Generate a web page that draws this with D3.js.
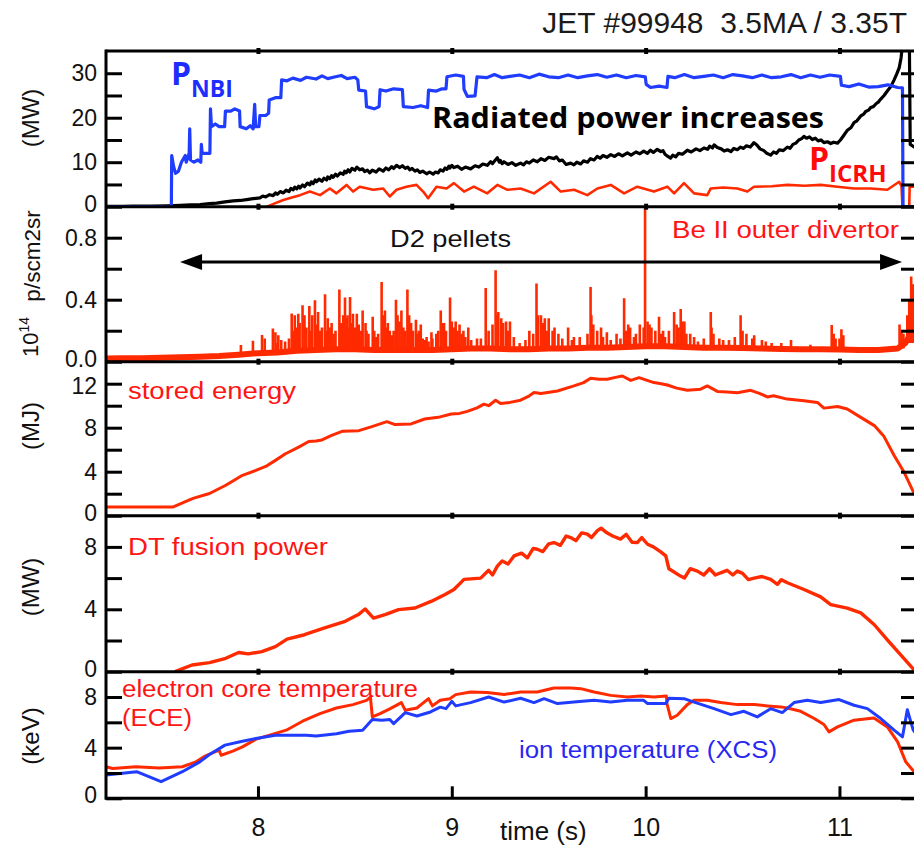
<!DOCTYPE html>
<html><head><meta charset="utf-8">
<script src="https://cdn.jsdelivr.net/npm/d3@7"></script>
<style>body{margin:0;background:#fff}svg{display:block}</style>
</head><body>
<script>
// ---------------- DATA ----------------
const timeTicks = [8, 9, 10, 11];

// Panel 1: NBI power (MW)
const nbiT = [7.216,7.553,7.555,7.565,7.575,7.59,7.605,7.625,7.63,7.645,7.648,7.652,7.67,7.69,7.705,7.708,7.712,7.73,7.752,7.755,7.76,7.78,7.80,7.828,7.832,7.86,7.88,7.905,7.908,7.94,7.96,7.975,7.983,7.988,8.005,8.01,8.04,8.055,8.058,8.09,8.118,8.122,8.15,8.18,8.22,8.25,8.30,8.33,8.36,8.40,8.43,8.46,8.50,8.515,8.52,8.555,8.56,8.6,8.625,8.63,8.66,8.7,8.745,8.75,8.8,8.84,8.875,8.88,8.92,8.95,8.97,8.975,9.02,9.06,9.063,9.08,9.12,9.13,9.18,9.22,9.26,9.3,9.35,9.4,9.45,9.5,9.55,9.6,9.65,9.7,9.75,9.8,9.85,9.9,9.95,9.998,10.003,10.025,10.07,10.11,10.115,10.15,10.2,10.25,10.3,10.35,10.4,10.45,10.5,10.55,10.6,10.65,10.7,10.75,10.8,10.85,10.9,10.95,11.005,11.01,11.05,11.1,11.15,11.2,11.25,11.3,11.325,11.328,11.4];
const nbiV = [0,0,11.5,9,7.5,8,10,11.5,10,12,17.5,10.5,10,10.5,10,14,12,12,12,22,18,18.6,18,18,21.5,21.5,22,21.5,18,17.5,18.2,17.5,23,18,18,20.5,20.5,21,24,24.5,24.5,28.5,28.3,28.9,28.4,29.1,28.7,29.4,28.8,29.2,29.5,28.8,29.1,28.5,26.2,26,22.5,22,22.5,26.3,26.0,26.5,26.3,22.5,22.3,22.7,22.3,26.2,26.0,26.5,26.5,29.2,29.6,29.3,26.4,24.8,24.9,29.2,29.0,29.7,29.0,29.3,29.6,29.0,29.8,29.2,29.0,29.6,29.0,29.4,29.7,29.1,29.6,29.0,29.5,29.2,27.5,26.8,27.1,26.8,29.3,29.0,29.7,29.0,29.3,29.6,29.0,29.7,29.4,29.0,29.6,29.0,29.2,29.7,29.0,29.6,29.1,29.6,29.3,27.3,27.0,27.6,26.9,27.0,27.4,26.8,26.7,0,0];

// Panel 1: radiated power (MW)
const pradT = [7.216,7.30,7.357,7.45,7.529,7.6,7.65,7.701,7.75,7.787,7.83,7.872,7.91,7.941,7.975,8.01,8.025,8.04,8.06,8.079,8.09,8.10,8.115,8.131,8.145,8.16,8.17,8.182,8.19,8.20,8.21,8.217,8.23,8.24,8.255,8.268,8.275,8.285,8.295,8.302,8.315,8.33,8.34,8.354,8.36,8.37,8.38,8.388,8.40,8.41,8.425,8.44,8.447,8.455,8.465,8.474,8.485,8.50,8.51,8.525,8.54,8.55,8.565,8.577,8.59,8.61,8.625,8.646,8.66,8.675,8.69,8.70,8.715,8.732,8.745,8.76,8.772,8.783,8.795,8.81,8.822,8.835,8.85,8.87,8.885,8.904,8.915,8.93,8.94,8.955,8.965,8.975,8.985,8.99,9.0,9.011,9.03,9.05,9.07,9.097,9.12,9.14,9.16,9.183,9.20,9.21,9.225,9.235,9.245,9.25,9.26,9.269,9.29,9.31,9.33,9.355,9.37,9.385,9.40,9.42,9.441,9.46,9.48,9.50,9.527,9.54,9.555,9.57,9.59,9.613,9.63,9.645,9.665,9.68,9.70,9.715,9.734,9.75,9.765,9.78,9.80,9.82,9.84,9.86,9.88,9.906,9.925,9.95,9.97,9.99,10.009,10.025,10.04,10.06,10.078,10.09,10.10,10.115,10.129,10.14,10.155,10.17,10.19,10.215,10.235,10.26,10.28,10.301,10.32,10.33,10.345,10.353,10.37,10.39,10.405,10.422,10.44,10.455,10.473,10.49,10.505,10.52,10.54,10.559,10.575,10.59,10.61,10.625,10.645,10.66,10.675,10.69,10.71,10.731,10.745,10.76,10.775,10.79,10.805,10.817,10.83,10.845,10.86,10.875,10.89,10.905,10.92,10.938,10.955,10.97,10.99,11.005,11.02,11.041,11.06,11.075,11.09,11.11,11.125,11.135,11.15,11.161,11.175,11.19,11.2,11.213,11.23,11.247,11.265,11.282,11.295,11.308,11.318,11.325,11.34,11.36,11.365,11.40];
const pradV = [0.1,0.1,0.15,0.15,0.2,0.3,0.4,0.5,0.7,0.8,1.1,1.3,1.4,1.6,1.8,2.0,2.4,2.2,2.7,2.5,3.1,2.8,3.4,3.1,3.7,3.4,4.1,3.8,4.4,4.0,4.6,4.2,4.9,4.5,5.3,4.9,5.6,5.2,6.0,5.6,6.2,5.7,6.4,6.0,6.7,6.3,7.0,6.6,7.3,6.9,7.6,7.3,8.0,7.6,8.3,7.8,8.6,8.2,8.9,8.3,8.5,7.9,8.2,7.6,8.2,7.8,8.5,8.0,8.7,8.3,9.0,8.6,9.3,8.8,9.2,8.6,8.9,8.3,8.6,8.0,8.3,7.7,8.0,7.4,7.8,7.3,7.8,7.6,8.3,8.0,8.7,8.4,9.1,8.7,9.3,8.8,9.1,8.4,8.9,8.5,9.2,8.9,9.6,9.3,10.1,9.7,10.5,11.0,10.0,10.4,9.7,10.1,9.5,9.9,9.3,9.8,9.4,10.1,9.8,10.5,10.1,10.8,10.4,11.1,10.8,11.2,10.3,10.5,9.5,9.8,9.4,10.0,9.6,10.3,10.0,10.8,10.5,11.3,10.9,11.5,11.1,11.7,11.3,11.9,11.4,12.1,11.6,12.3,11.9,12.5,12.0,12.7,12.2,12.9,12.4,12.6,11.8,11.3,10.9,11.6,11.2,12.0,11.8,12.7,12.3,13.0,12.6,13.2,12.9,13.6,13.2,13.9,13.3,13.0,12.5,12.8,12.4,13.1,12.8,13.4,13.1,13.7,13.4,14.4,13.8,13.0,12.6,12.0,11.6,12.3,12.0,12.8,12.6,13.4,13.1,14.0,14.3,15.0,15.3,15.8,15.4,15.7,15.1,15.4,14.8,15.0,14.4,14.6,14.2,14.5,14.3,15.0,15.9,17.2,17.8,18.9,19.3,20.4,20.8,21.4,21.7,22.3,22.5,23.2,23.5,24.2,25.0,26.0,27.0,28.5,29.8,31.2,33.5,36.5,40,40,14,13];

// Panel 1: ICRH power (MW)
const icrhT = [8.047,8.09,8.131,8.17,8.217,8.268,8.32,8.371,8.405,8.457,8.491,8.525,8.594,8.646,8.68,8.715,8.766,8.818,8.852,8.878,8.921,8.973,9.011,9.063,9.114,9.183,9.235,9.287,9.355,9.424,9.51,9.562,9.631,9.699,9.751,9.82,9.889,9.957,10.043,10.112,10.147,10.198,10.25,10.318,10.336,10.40,10.473,10.525,10.559,10.65,10.731,10.82,10.903,10.99,11.075,11.161,11.247,11.308,11.32,11.325,11.36,11.362,11.4];
const icrhV = [0,0.8,1.5,2.0,2.6,3.4,2.6,4.1,3.0,4.9,3.4,4.5,3.8,4.1,2.3,3.8,4.5,4.9,3.4,1.9,4.5,4.1,5.3,3.4,4.5,3.0,4.9,3.8,4.1,3.0,5.6,3.4,3.8,2.6,4.1,4.9,3.0,4.5,3.4,4.5,3.0,5.3,3.0,2.6,4.1,4.3,4.1,3.4,4.5,4.6,4.9,4.7,4.9,4.5,4.1,4.1,3.8,5.6,4.6,0,0,4.5,4.5];

// Panel 2: Be II outer divertor (10^14 p/scm2sr): background level and pellet spikes
const beT = [7.216,7.3,7.4,7.5,7.6,7.7,7.8,7.9,8.0,8.1,8.2,8.3,8.4,8.5,8.6,8.7,8.8,8.9,9.0,9.1,9.2,9.3,9.4,9.5,9.6,9.7,9.8,9.9,10.0,10.1,10.2,10.3,10.4,10.5,10.6,10.7,10.8,10.9,11.0,11.1,11.2,11.3,11.34,11.4];
const beV = [0.02,0.022,0.022,0.025,0.028,0.032,0.037,0.045,0.055,0.06,0.07,0.075,0.08,0.08,0.075,0.075,0.075,0.075,0.08,0.085,0.085,0.08,0.08,0.085,0.085,0.09,0.09,0.095,0.1,0.1,0.095,0.09,0.09,0.088,0.085,0.082,0.08,0.08,0.078,0.075,0.075,0.085,0.12,0.25];
const spikeT = [7.912,7.974,8.021,8.035,8.077,8.09,8.105,8.174,8.19,8.208,8.230,8.24,8.265,8.28,8.294,8.31,8.346,8.36,8.38,8.42,8.449,8.462,8.475,8.49,8.51,8.54,8.555,8.592,8.638,8.655,8.67,8.712,8.74,8.771,8.79,8.815,8.84,8.87,8.895,8.943,8.96,8.991,9.02,9.04,9.06,9.085,9.13,9.175,9.226,9.24,9.255,9.28,9.30,9.35,9.437,9.46,9.48,9.50,9.53,9.55,9.60,9.63,9.716,9.73,9.77,9.80,9.85,9.889,9.91,9.94,9.97,9.997,10.01,10.03,10.069,10.09,10.147,10.181,10.20,10.23,10.25,10.336,10.35,10.40,10.43,10.49,10.52,10.56,10.62,10.70,10.75,10.85,10.96,10.98,11.01,11.02,11.31,11.33,11.36,11.37,11.39,11.40,
  8.10,8.12,8.14,8.16,8.185,8.20,8.215,8.25,8.27,8.30,8.32,8.33,8.35,8.37,8.39,8.40,8.43,8.44,8.455,8.47,8.48,8.50,8.52,8.53,8.56,8.57,8.60,8.61,8.62,8.645,8.66,8.68,8.69,8.70,8.72,8.73,8.75,8.76,8.78,8.80,8.82,8.83,8.85,8.86,8.88,8.90,8.92,8.93,8.95,8.97,9.00,9.01,9.03,9.05,9.07,9.10,9.15,9.19,9.21,9.235,9.265,9.29,9.32,9.38,9.40,9.42,9.445,9.47,9.49,9.52,9.57,9.62,9.66,9.70,9.72,9.75,9.78,9.82,9.87,9.90,9.92,9.95,9.99,10.02,10.05,10.08,10.10,10.12,10.16,10.17,10.19,10.21,10.27,10.30,10.34,10.38,10.46,10.50,10.55,10.60,10.65,10.97,11.00,11.32,11.35,11.38];
const spikeV = [0.107,0.135,0.172,0.15,0.215,0.19,0.17,0.311,0.30,0.31,0.365,0.30,0.36,0.30,0.397,0.32,0.435,0.28,0.25,0.466,0.414,0.30,0.418,0.31,0.31,0.33,0.25,0.29,0.515,0.33,0.25,0.40,0.33,0.466,0.25,0.27,0.24,0.16,0.19,0.33,0.25,0.414,0.26,0.24,0.20,0.22,0.15,0.475,0.59,0.32,0.28,0.26,0.26,0.12,0.504,0.30,0.28,0.28,0.22,0.18,0.22,0.16,0.482,0.24,0.22,0.19,0.18,0.41,0.24,0.16,0.24,1.0,0.26,0.22,0.29,0.20,0.32,0.34,0.26,0.18,0.16,0.32,0.18,0.14,0.14,0.30,0.18,0.17,0.13,0.12,0.14,0.11,0.236,0.15,0.21,0.17,0.24,0.18,0.40,0.55,0.50,0.45,
  0.12,0.14,0.13,0.15,0.2,0.22,0.25,0.22,0.2,0.24,0.2,0.22,0.2,0.22,0.18,0.2,0.25,0.3,0.28,0.22,0.25,0.22,0.24,0.2,0.2,0.18,0.2,0.16,0.18,0.3,0.22,0.2,0.17,0.2,0.3,0.26,0.22,0.2,0.3,0.2,0.18,0.2,0.15,0.14,0.13,0.15,0.18,0.2,0.25,0.2,0.26,0.22,0.2,0.18,0.16,0.14,0.15,0.2,0.24,0.3,0.25,0.2,0.16,0.14,0.2,0.18,0.3,0.25,0.2,0.2,0.15,0.14,0.16,0.18,0.3,0.2,0.16,0.14,0.15,0.2,0.22,0.18,0.22,0.24,0.2,0.18,0.16,0.2,0.24,0.22,0.26,0.18,0.13,0.15,0.22,0.15,0.16,0.2,0.15,0.14,0.12,0.18,0.15,0.2,0.3,0.5];
const pelletStart = 7.598, pelletEnd = 11.323, pelletLevel = 0.643;

// Panel 3: stored energy (MJ)
const wT = [7.216,7.40,7.563,7.665,7.75,7.834,7.92,7.989,8.04,8.09,8.142,8.21,8.262,8.30,8.33,8.38,8.434,8.48,8.52,8.588,8.665,8.707,8.79,8.86,8.93,8.997,9.04,9.08,9.13,9.166,9.19,9.226,9.252,9.30,9.355,9.40,9.424,9.46,9.545,9.63,9.68,9.716,9.76,9.802,9.85,9.88,9.923,9.966,10.0,10.043,10.08,10.112,10.16,10.215,10.284,10.318,10.37,10.42,10.473,10.542,10.59,10.628,10.66,10.73,10.817,10.886,10.92,10.99,11.04,11.11,11.18,11.23,11.282,11.333,11.385,11.40];
const wV = [0.8,0.8,0.8,1.57,2.02,2.77,3.67,4.12,4.48,5.03,5.63,6.23,6.74,6.8,6.89,7.3,7.67,7.7,7.73,8.1,8.55,8.28,8.34,8.79,8.94,9.24,9.3,9.48,9.8,10.14,10.0,10.5,10.2,10.3,10.5,10.9,11.19,11.1,11.34,11.8,12.1,12.49,12.4,12.4,12.6,12.7,12.3,12.55,12.35,12.1,12.0,11.88,11.6,11.4,11.5,11.8,11.3,11.25,11.18,11.4,11.1,10.8,10.9,10.6,10.45,10.3,9.78,9.93,9.7,8.94,8.19,7.19,5.48,3.97,2.02,1.5];

// Panel 4: DT fusion power (MW)
const fusT = [7.572,7.66,7.75,7.834,7.90,7.95,8.02,8.09,8.15,8.24,8.34,8.45,8.518,8.553,8.596,8.656,8.725,8.81,8.896,8.965,9.011,9.063,9.149,9.19,9.21,9.235,9.26,9.29,9.321,9.36,9.39,9.42,9.441,9.47,9.50,9.527,9.56,9.59,9.613,9.64,9.67,9.70,9.72,9.75,9.77,9.80,9.83,9.87,9.90,9.93,9.957,9.98,10.01,10.04,10.078,10.104,10.12,10.18,10.20,10.23,10.267,10.30,10.33,10.36,10.387,10.42,10.45,10.473,10.50,10.53,10.56,10.60,10.645,10.68,10.70,10.731,10.817,10.903,10.955,11.04,11.11,11.18,11.247,11.316,11.385,11.40];
const fusV = [0,0.43,0.58,0.86,1.23,1.14,1.29,1.61,2.09,2.37,2.8,3.23,3.66,4.02,3.44,3.66,3.98,4.08,4.52,4.95,5.27,5.92,6.0,6.5,6.2,6.77,7.1,6.9,7.42,7.6,7.3,7.9,7.85,7.7,8.2,8.28,8.1,8.7,8.6,8.4,8.9,8.82,8.6,9.03,9.2,8.9,8.7,8.5,8.8,8.3,8.28,8.6,8.17,8.0,7.68,7.42,6.6,6.13,6.0,6.6,6.45,6.2,6.6,6.2,6.34,6.5,6.2,6.45,6.3,5.9,6.0,6.1,5.92,5.6,5.9,5.7,5.27,4.8,4.3,4.08,3.77,3.01,2.04,1.08,0.11,0];

// Panel 5: electron temperature ECE (keV)
const teT = [7.216,7.25,7.37,7.49,7.61,7.68,7.73,7.786,7.80,7.81,7.87,7.92,7.99,8.06,8.146,8.23,8.32,8.405,8.49,8.56,8.58,8.59,8.63,8.68,8.74,8.76,8.82,8.88,8.90,8.94,8.99,9.02,9.097,9.183,9.27,9.355,9.441,9.527,9.613,9.665,9.734,9.82,9.906,9.975,10.043,10.107,10.11,10.13,10.163,10.215,10.25,10.318,10.387,10.473,10.56,10.628,10.697,10.731,10.80,10.87,10.92,10.946,10.99,11.075,11.178,11.247,11.30,11.342,11.385,11.40];
const teV = [2.49,2.36,2.49,2.4,2.49,2.88,3.36,3.72,3.8,3.4,3.72,4.06,4.67,4.98,5.38,6.09,6.69,7.13,7.4,7.74,8.0,6.43,6.69,7.06,7.56,6.95,7.13,7.87,7.3,7.74,7.87,8.19,8.4,8.35,8.2,8.4,8.4,8.71,8.71,8.66,8.4,8.13,8.0,8.08,8.0,8.08,7.48,6.3,6.56,7.4,7.74,7.74,7.56,7.4,7.4,7.3,7.22,7.13,6.87,6.3,5.83,5.25,5.64,6.17,6.35,5.64,4.46,2.88,2.1,1.8];

// Panel 5: ion temperature XCS (keV)
const tiT = [7.216,7.374,7.50,7.61,7.70,7.75,7.83,7.92,8.005,8.09,8.16,8.25,8.30,8.405,8.47,8.54,8.59,8.64,8.68,8.70,8.76,8.82,8.89,8.94,8.97,9.0,9.02,9.097,9.19,9.27,9.355,9.424,9.476,9.545,9.63,9.734,9.82,9.906,9.99,10.01,10.104,10.12,10.198,10.25,10.353,10.44,10.507,10.576,10.645,10.705,10.766,10.834,10.903,10.998,11.075,11.144,11.213,11.282,11.325,11.35,11.38,11.40];
const tiV = [1.83,2.1,1.31,2.1,2.88,3.46,4.2,4.51,4.77,4.98,4.98,4.98,4.93,5.1,5.3,5.38,6.22,6.17,6.22,5.9,6.77,6.5,6.82,7.2,7.08,7.66,7.3,7.56,8.0,7.6,7.9,7.56,7.87,7.48,7.6,7.74,7.6,7.74,7.74,7.48,7.48,7.9,7.87,7.6,7.08,6.61,6.87,6.43,7.08,6.77,7.56,7.74,7.56,7.8,7.35,7.08,6.3,5.38,4.85,7.0,5.4,5.0];

// Axis ticks per panel
const p1Major = [0,10,20,30], p1Minor = [5,15,25];
const p2Major = [0,0.4,0.8],  p2Minor = [0.2,0.6];
const p3Major = [0,4,8,12],   p3Minor = [2,6,10];
const p4Major = [0,4,8],      p4Minor = [2,6];
const p5Major = [0,4,8],      p5Minor = [2,6];

// ---------------- DRAW ----------------
const W = 914, H = 846;
const LEFT = 106, RIGHT = 917;
const BLUE = '#1f3cff', RED = '#ff2a00', TXTRED = '#ff1414', TXTBLUE = '#2828f0';
const FONT = "'Liberation Sans', Arial, Helvetica, sans-serif";
const BOLD = "'Open Sans', 'Lato', sans-serif";

const svg = d3.select('body').append('svg').attr('width', W).attr('height', H);
const x = d3.scaleLinear().domain([7.216, 11.4]).range([LEFT, RIGHT]);

const panels = [
  {top: 51,    bottom: 206.7, dom: [0,35], major: p1Major, minor: p1Minor, fmt: d3.format('d')},
  {top: 206.7, bottom: 361.7, dom: [0,1.0], major: p2Major, minor: p2Minor, fmt: d3.format('.1f')},
  {top: 361.7, bottom: 515.7, dom: [0,14], major: p3Major, minor: p3Minor, fmt: d3.format('d')},
  {top: 515.7, bottom: 671.7, dom: [0,10], major: p4Major, minor: p4Minor, fmt: d3.format('d')},
  {top: 671.7, bottom: 798.3, dom: [0,10], major: p5Major, minor: p5Minor, fmt: d3.format('d')}
];
panels.forEach((p, i) => {
  p.y = d3.scaleLinear().domain(p.dom).range([p.bottom, p.top]);
  svg.append('clipPath').attr('id', 'clip' + i).append('rect')
    .attr('x', LEFT).attr('y', p.top).attr('width', RIGHT - LEFT).attr('height', p.bottom - p.top);
});

const zip = (t, v) => t.map((d, i) => [d, v[i]]);
function drawLine(pi, t, v, color, width) {
  const p = panels[pi];
  const line = d3.line().x(d => x(d[0])).y(d => p.y(d[1]));
  svg.append('path').datum(zip(t, v))
    .attr('clip-path', 'url(#clip' + pi + ')')
    .attr('d', line).attr('fill', 'none').attr('stroke', color)
    .attr('stroke-width', width).attr('stroke-linejoin', 'round');
}

// Panel 1
drawLine(0, icrhT, icrhV, RED, 2.6);
drawLine(0, pradT, pradV, '#000', 3.2);
drawLine(0, nbiT, nbiV, BLUE, 3.2);

// Panel 2 background signal + spikes
drawLine(1, beT, beV, RED, 6);
{
  const p = panels[1];
  const bis = d3.bisector(d => d).right;
  const g = svg.append('g').attr('clip-path', 'url(#clip1)');
  g.selectAll('line.sp').data(zip(spikeT, spikeV)).join('line')
    .attr('x1', d => x(d[0])).attr('x2', d => x(d[0]))
    .attr('y1', d => p.y(beV[Math.max(0, bis(beT, d[0]) - 1)]))
    .attr('y2', d => p.y(d[1]))
    .attr('stroke', RED).attr('stroke-width', 2.6);
  // pellet arrow
  const ay = p.y(pelletLevel), x0 = x(pelletStart), x1 = x(pelletEnd);
  svg.append('line').attr('x1', x0 + 10).attr('x2', x1 - 10).attr('y1', ay).attr('y2', ay)
    .attr('stroke', '#000').attr('stroke-width', 3);
  svg.append('path').attr('d', `M${x0},${ay}L${x0 + 22},${ay - 8}L${x0 + 22},${ay + 8}Z`).attr('fill', '#000');
  svg.append('path').attr('d', `M${x1},${ay}L${x1 - 22},${ay - 8}L${x1 - 22},${ay + 8}Z`).attr('fill', '#000');
}

// Panels 3,4,5
drawLine(2, wT, wV, RED, 3);
drawLine(3, fusT, fusV, RED, 3.4);
drawLine(4, teT, teV, RED, 3);
drawLine(4, tiT, tiV, BLUE, 3);

// Axes
panels.forEach((p, i) => {
  const all = p.major.concat(p.minor);
  const left = svg.append('g').attr('transform', `translate(${LEFT},0)`)
    .call(d3.axisLeft(p.y).tickValues(all).tickSize(-16).tickPadding(9)
      .tickFormat(d => p.major.includes(d) ? p.fmt(d) : ''));
  const right = svg.append('g').attr('transform', `translate(${RIGHT},0)`)
    .call(d3.axisRight(p.y).tickValues(all).tickSize(-16).tickFormat(''));
  [left, right].forEach(g => {
    g.select('.domain').remove();
    g.selectAll('line').attr('stroke', '#000').attr('stroke-width', 3);
    g.selectAll('text').attr('font-family', FONT).attr('font-size', 23).attr('fill', '#111');
  });
  // nudge labels that sit right at a panel boundary so they do not collide
  left.selectAll('.tick').filter(d => d === p.dom[0]).select('text').attr('dy', '0.2em');
  left.selectAll('.tick').filter(d => i === 2 && d === 12).select('text').attr('dy', '0.42em');
  // small time ticks on the top edge of each panel
  const tg = svg.append('g').attr('transform', `translate(0,${p.top - 3})`)
    .call(d3.axisBottom(x).tickValues(timeTicks).tickSize(6).tickFormat(''));
  tg.select('.domain').remove();
  tg.selectAll('line').attr('stroke', '#000').attr('stroke-width', 4);
});

// bottom time axis
{
  const g = svg.append('g').attr('transform', `translate(0,${panels[4].bottom})`)
    .call(d3.axisBottom(x).tickValues(timeTicks).tickSize(-12).tickPadding(20).tickFormat(d3.format('d')));
  g.select('.domain').remove();
  g.selectAll('line').attr('stroke', '#000').attr('stroke-width', 3);
  g.selectAll('text').attr('font-family', FONT).attr('font-size', 25).attr('fill', '#111');
}

// frame lines
const frame = svg.append('g').attr('stroke', '#000').attr('stroke-width', 3);
panels.forEach(p => {
  frame.append('line').attr('x1', LEFT).attr('x2', RIGHT).attr('y1', p.top).attr('y2', p.top);
});
frame.append('line').attr('x1', LEFT).attr('x2', RIGHT).attr('y1', panels[4].bottom).attr('y2', panels[4].bottom);
frame.append('line').attr('x1', LEFT).attr('x2', LEFT).attr('y1', panels[0].top - 1.5).attr('y2', panels[4].bottom + 1.5);
frame.append('line').attr('x1', RIGHT).attr('x2', RIGHT).attr('y1', panels[0].top - 1.5).attr('y2', panels[4].bottom + 1.5);

// ---------------- TEXT ----------------
function txt(s, xx, yy, size, color, opts = {}) {
  const t = svg.append('text').attr('x', xx).attr('y', yy).text(s)
    .attr('font-family', opts.family || FONT).attr('font-size', size).attr('fill', color);
  if (opts.anchor) t.attr('text-anchor', opts.anchor);
  if (opts.weight) t.attr('font-weight', opts.weight);
  if (opts.len) t.attr('textLength', opts.len).attr('lengthAdjust', 'spacingAndGlyphs');
  return t;
}
txt('JET #99948  3.5MA / 3.35T', 907, 33, 30, '#1a1a1a', {anchor: 'end'}).style('white-space', 'pre');
txt('time (s)', 500, 840, 26, '#111');

// P_NBI
{
  const t = svg.append('text').attr('x', 171).attr('y', 85).attr('font-family', BOLD).attr('font-weight', 700).attr('fill', '#1d2cff');
  t.append('tspan').text('P').attr('font-size', 32);
  t.append('tspan').text('NBI').attr('font-size', 23).attr('dy', 12);
}
// P_ICRH
{
  const t = svg.append('text').attr('x', 809).attr('y', 170).attr('font-family', BOLD).attr('font-weight', 700).attr('fill', '#ff0a0a');
  t.append('tspan').text('P').attr('font-size', 32);
  t.append('tspan').text('ICRH').attr('font-size', 24).attr('dy', 12);
}
txt('Radiated power increases', 432, 128, 28, '#000', {family: BOLD, weight: 700, len: 392});
txt('D2 pellets', 390, 247, 24.5, '#111', {len: 121});
txt('Be II outer divertor', 672, 238, 23.5, TXTRED, {len: 227});
txt('stored energy', 128, 399, 23, TXTRED, {len: 168});
txt('DT fusion power', 128, 555, 23, TXTRED, {len: 200});
txt('electron core temperature', 122, 697, 23, TXTRED, {len: 296});
txt('(ECE)', 122, 726, 23, TXTRED, {len: 70});
txt('ion temperature (XCS)', 519, 758, 23, TXTBLUE, {len: 258});

// rotated axis titles
function rot(s, cx, cy, size) {
  svg.append('text').attr('transform', `translate(${cx},${cy}) rotate(-90)`)
    .attr('text-anchor', 'middle').attr('dominant-baseline', 'central')
    .attr('font-family', FONT).attr('font-size', size).attr('fill', '#111').text(s);
}
rot('(MW)', 30, 118, 24);
rot('p/scm2sr', 32, 256, 22.5);
rot('(MJ)', 30, 426, 24);
rot('(MW)', 30, 587, 24);
rot('(keV)', 30, 736, 24);
{
  const t = svg.append('text').attr('transform', 'translate(38,357) rotate(-90)')
    .attr('font-family', FONT).attr('fill', '#111');
  t.append('tspan').text('10').attr('font-size', 22);
  t.append('tspan').text('14').attr('font-size', 14).attr('dy', -9);
}
</script>
</body></html>
